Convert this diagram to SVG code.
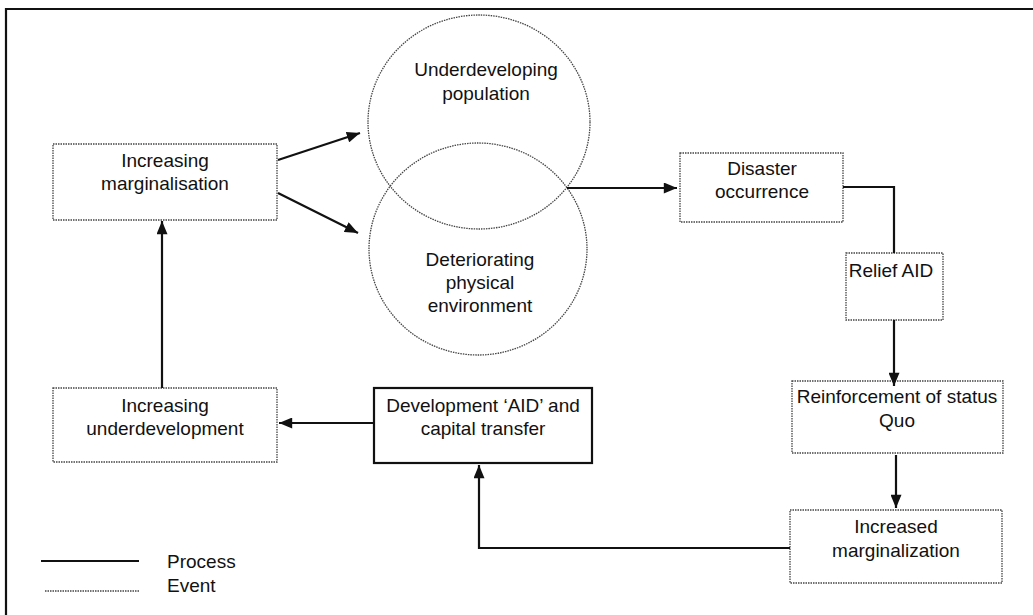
<svg xmlns="http://www.w3.org/2000/svg" width="1033" height="615" viewBox="0 0 1033 615">
<defs>
<style>
text{font-family:"Liberation Sans",Arial,sans-serif;font-size:19px;fill:#111;text-anchor:middle}
.ev{fill:#fff;stroke:#444;stroke-width:1.3;stroke-dasharray:1.5 1}
.pr{fill:#fff;stroke:#111;stroke-width:2.2}
.cn{fill:none;stroke:#111;stroke-width:2.2}
</style>
<marker id="ah" viewBox="0 0 12 10" refX="12" refY="5" markerWidth="14" markerHeight="11" markerUnits="userSpaceOnUse" orient="auto">
<path d="M0,0 L12,5 L0,10 Z" fill="#111"/>
</marker>
</defs>
<rect width="1033" height="615" fill="#fff"/>
<path d="M6,620 L6,9 L1040,9" fill="none" stroke="#111" stroke-width="2.2"/>

<g id="underdeveloping-population">
<ellipse class="ev" cx="479" cy="122" rx="111" ry="107" fill="none" style="fill:none"/>
<text x="486" y="76">Underdeveloping</text>
<text x="486" y="100">population</text>
</g>
<g id="deteriorating-environment">
<ellipse class="ev" cx="478" cy="249" rx="109" ry="106" style="fill:none"/>
<text x="480" y="266">Deteriorating</text>
<text x="480" y="289">physical</text>
<text x="480" y="312">environment</text>
</g>

<g id="increasing-marginalisation">
<rect class="ev" x="53" y="144" width="224" height="76"/>
<text x="165" y="167">Increasing</text>
<text x="165" y="190">marginalisation</text>
</g>
<g id="disaster-occurrence">
<rect class="ev" x="680" y="153" width="163" height="69"/>
<text x="762" y="175">Disaster</text>
<text x="762" y="198">occurrence</text>
</g>
<g id="relief-aid">
<rect class="ev" x="846" y="253" width="97" height="67"/>
<text x="891" y="277">Relief AID</text>
</g>
<g id="reinforcement">
<rect class="ev" x="792" y="381" width="211" height="72"/>
<text x="897" y="403">Reinforcement of status</text>
<text x="897" y="427">Quo</text>
</g>
<g id="increased-marginalization">
<rect class="ev" x="790" y="510" width="212" height="73"/>
<text x="896" y="533">Increased</text>
<text x="896" y="557">marginalization</text>
</g>
<g id="development-aid">
<rect class="pr" x="374" y="388" width="218" height="75"/>
<text x="483" y="412">Development ‘AID’ and</text>
<text x="483" y="435">capital transfer</text>
</g>
<g id="increasing-underdevelopment">
<rect class="ev" x="53" y="388" width="224" height="74"/>
<text x="165" y="412">Increasing</text>
<text x="165" y="435">underdevelopment</text>
</g>

<g id="connectors">
<path class="cn" d="M278,160 L360,133" marker-end="url(#ah)"/>
<path class="cn" d="M278,193 L358,233" marker-end="url(#ah)"/>
<path class="cn" d="M567,188 L677,188" marker-end="url(#ah)"/>
<path class="cn" d="M843,187 L894,187 L894,253"/>
<path class="cn" d="M894,320 L894,386" marker-end="url(#ah)"/>
<path class="cn" d="M896,455 L896,508" marker-end="url(#ah)"/>
<path class="cn" d="M790,548 L479,548 L479,465" marker-end="url(#ah)"/>
<path class="cn" d="M374,423 L279,423" marker-end="url(#ah)"/>
<path class="cn" d="M162,388 L162,221" marker-end="url(#ah)"/>
</g>

<g id="legend">
<line x1="41" y1="561" x2="139" y2="561" stroke="#111" stroke-width="2"/>
<line x1="45" y1="591" x2="139" y2="591" stroke="#444" stroke-width="1.3" stroke-dasharray="1.5 1"/>
<text x="167" y="568" style="text-anchor:start">Process</text>
<text x="167" y="592" style="text-anchor:start">Event</text>
</g>
</svg>
